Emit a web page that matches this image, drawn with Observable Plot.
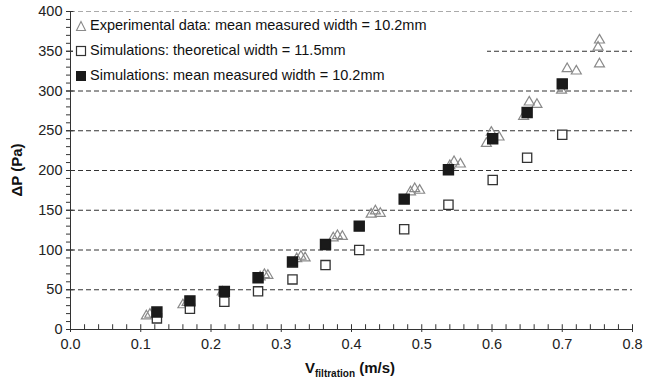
<!DOCTYPE html>
<html><head><meta charset="utf-8">
<script src="https://cdn.jsdelivr.net/npm/d3@7"></script>
<script src="https://cdn.jsdelivr.net/npm/@observablehq/plot@0.6"></script>
<style>
body{margin:0;background:#fff;font-family:"Liberation Sans",Arial,sans-serif}
#wrap{position:relative;width:649px;height:384px}
#legend{position:absolute;left:73px;top:13px;width:414px;height:67px;background:#fff;font-size:14.5px;color:#111;line-height:25px}
#legend div{display:flex;align-items:center;height:25px;margin-left:2px}
#legend svg{margin-right:3px}
</style></head>
<body><div id="wrap"><div id="chart"></div>
<div id="legend"></div></div>
<script>
// Experimental data: mean measured width = 10.2mm
const expV  = [0.108,0.113,0.160,0.166,0.216,0.270,0.276,0.281,0.322,0.328,0.334,0.374,0.380,0.387,0.428,0.434,0.441,0.484,0.490,0.497,0.540,0.546,0.555,0.592,0.599,0.610,0.645,0.653,0.664,0.699,0.707,0.720,0.751,0.753,0.753];
const expDP = [17,19,31,34,47,66,69,68,89,92,90,115,118,117,145,149,146,173,177,175,206,211,208,234,248,242,268,286,283,301,328,325,355,364,334];
// Simulations: theoretical width = 11.5mm
const theoV  = [0.123,0.170,0.219,0.267,0.316,0.363,0.411,0.475,0.538,0.601,0.650,0.700];
const theoDP = [14,26,35,48,63,81,100,126,157,188,216,245];
// Simulations: mean measured width = 10.2mm
const measV  = [0.123,0.170,0.219,0.267,0.316,0.363,0.411,0.475,0.538,0.601,0.650,0.700];
const measDP = [22,36,48,65,85,107,130,164,201,240,273,309];
const xTicks = [0,0.1,0.2,0.3,0.4,0.5,0.6,0.7,0.8];
const xMinor = d3.range(0,0.8001,0.02);
const yTicks = [0,50,100,150,200,250,300,350,400];
const yMinor = d3.range(0,401,10);
const legendLabels = ["Experimental data: mean measured width = 10.2mm","Simulations: theoretical width = 11.5mm","Simulations: mean measured width = 10.2mm"];

const exp = expV.map((v,i)=>({v,dp:expDP[i]}));
const theo = theoV.map((v,i)=>({v,dp:theoDP[i]}));
const meas = measV.map((v,i)=>({v,dp:measDP[i]}));

const axisColor = "#333";
const chart = Plot.plot({
  width:649, height:384,
  marginLeft:70, marginRight:17, marginTop:11, marginBottom:55,
  style:{fontFamily:"Liberation Sans, Arial, sans-serif", fontSize:"14.5px", color:"#222", background:"#fff"},
  x:{domain:[0,0.8]},
  y:{domain:[0,400]},
  marks:[
    Plot.ruleY(yTicks.filter(d=>d>0&&d<400),{stroke:"#333",strokeDasharray:"5,3",strokeWidth:1}),
    Plot.ruleY([400],{stroke:"#aaa",strokeDasharray:"5,3",strokeWidth:1}),
    Plot.axisX({ticks:xTicks, tickFormat:d3.format(".1f"), tickSize:3, tickPadding:6, label:null, stroke:axisColor, fontSize:14.5}),
    Plot.ruleX(xMinor,{y1:0,y2:6,stroke:axisColor}),
    Plot.axisY({ticks:yTicks, tickFormat:d=>d, tickSize:4, tickPadding:4, label:null, stroke:axisColor, fontSize:14.5}),
    Plot.axisY({ticks:yMinor, tickFormat:()=>"", tickSize:4, label:null, stroke:axisColor}),
    Plot.ruleY(yTicks,{x1:0,x2:0.005,stroke:axisColor}),
    Plot.ruleY([0],{stroke:axisColor}),
    Plot.ruleX([0],{stroke:axisColor}),
    Plot.dot(exp,{x:"v",y:"dp",symbol:"triangle",r:3.7,stroke:"#8a8a8a",fill:"none",strokeWidth:1.2}),
    Plot.dot(theo,{x:"v",y:"dp",symbol:"square",r:5.2,stroke:"#333",fill:"#fff",strokeWidth:1.3}),
    Plot.dot(meas,{x:"v",y:"dp",symbol:"square",r:5.6,stroke:"#1a1a1a",fill:"#1a1a1a"})
  ]
});
document.getElementById("chart").appendChild(chart);

// axis titles
const svg = d3.select(chart);
const xt = svg.append("text").attr("x",350).attr("y",373).attr("text-anchor","middle")
  .attr("font-weight","bold").attr("font-size","15px").attr("fill","#111");
xt.append("tspan").text("V");
xt.append("tspan").attr("font-size","10px").attr("dy","4").text("filtration");
xt.append("tspan").attr("dy","-4").text(" (m/s)");
svg.append("text").attr("transform","translate(22,170) rotate(-90)").attr("text-anchor","middle")
  .attr("font-weight","bold").attr("font-size","15px").attr("fill","#111").text("ΔP (Pa)");

// legend
const sym = [
  '<svg width="12" height="12"><path d="M6,1.5 L10.5,10.5 L1.5,10.5 Z" fill="none" stroke="#8a8a8a" stroke-width="1.1"/></svg>',
  '<svg width="12" height="12"><rect x="1.5" y="1.5" width="9" height="9" fill="#fff" stroke="#333" stroke-width="1.2"/></svg>',
  '<svg width="12" height="12"><rect x="1" y="1" width="10" height="10" fill="#1a1a1a"/></svg>'
];
document.getElementById("legend").innerHTML = legendLabels.map((t,i)=>`<div>${sym[i]}<span>${t}</span></div>`).join("");
</script></body></html>
